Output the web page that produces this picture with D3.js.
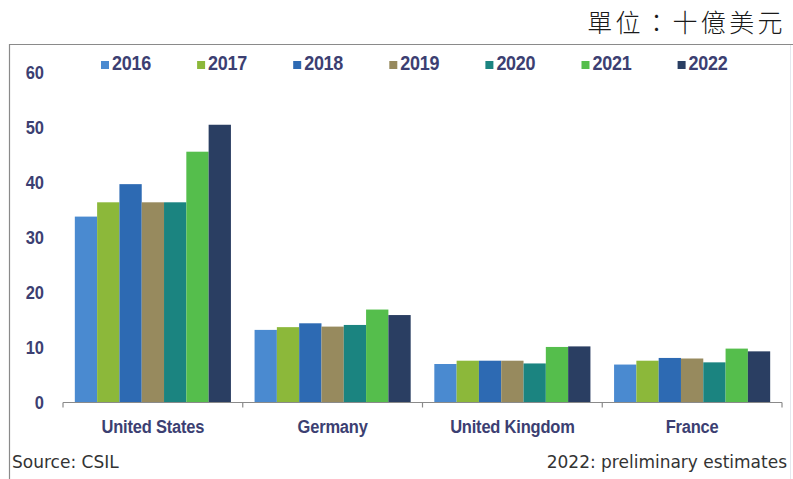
<!DOCTYPE html>
<html>
<head>
<meta charset="utf-8">
<script src="https://cdn.jsdelivr.net/npm/d3@7"></script>
<style>
  html, body { margin: 0; padding: 0; background: #fff; }
  svg { display: block; }
</style>
</head>
<body>
<svg id="chart" width="793" height="479"></svg>
<script>
// Furniture consumption by country, 2016–2022 (billion USD)
const countries = ["United States", "Germany", "United Kingdom", "France"];
const years = ["2016", "2017", "2018", "2019", "2020", "2021", "2022"];
const values2016 = [33.8, 13.2, 7.0, 6.9];
const values2017 = [36.4, 13.7, 7.6, 7.6];
const values2018 = [39.7, 14.4, 7.6, 8.1];
const values2019 = [36.4, 13.8, 7.6, 8.0];
const values2020 = [36.4, 14.1, 7.1, 7.3];
const values2021 = [45.6, 16.9, 10.1, 9.8];
const values2022 = [50.5, 15.9, 10.2, 9.3];
const yTicks = [0, 10, 20, 30, 40, 50, 60];
const yearColors = ["#4a8ad0", "#8cb83a", "#2d6ab3", "#978a5e", "#1b8480", "#55be4c", "#2a3e62"];

const seriesValues = [values2016, values2017, values2018, values2019, values2020, values2021, values2022];
const rows = countries.map((c, ci) => ({
  country: c,
  bars: years.map((y, yi) => ({ year: y, value: seriesValues[yi][ci] }))
}));

const svg = d3.select("#chart");
const textColor = "#3c3f72";
const stretch = 1.12;

// frame
svg.append("line").attr("x1", 9).attr("x2", 793).attr("y1", 44.5).attr("y2", 44.5)
  .attr("stroke", "#8a8a8a").attr("stroke-width", 1.2);
svg.append("line").attr("x1", 9.5).attr("x2", 9.5).attr("y1", 44).attr("y2", 479)
  .attr("stroke", "#8a8a8a").attr("stroke-width", 1.2);
svg.append("line").attr("x1", 790.5).attr("x2", 790.5).attr("y1", 45).attr("y2", 479)
  .attr("stroke", "#e4e8ee").attr("stroke-width", 1);

// unit label
svg.append("text")
  .attr("x", 786).attr("y", 32)
  .attr("text-anchor", "end")
  .attr("font-family", "'Noto Sans CJK TC', 'Noto Sans CJK SC', sans-serif")
  .attr("font-weight", 300)
  .attr("font-size", 25)
  .attr("letter-spacing", 3.4)
  .attr("fill", "#1a1a1a")
  .text("單位：十億美元");

// scales
const y = d3.scaleLinear().domain([0, 60]).range([402.5, 72.5]);
const x0 = d3.scaleBand().domain(countries).range([63, 782]).paddingInner(0).paddingOuter(0);
const x1 = d3.scaleBand().domain(years).range([0, x0.bandwidth()]).paddingInner(0).paddingOuter(0.53);

function stretchedText(sel, xPos, yPos) {
  return sel.attr("transform", `translate(${xPos},${yPos}) scale(1,${stretch})`);
}

// y tick labels
const yLabels = svg.append("g");
yTicks.forEach(t => {
  stretchedText(yLabels.append("text"), 44, y(t))
    .attr("text-anchor", "end")
    .attr("dominant-baseline", "central")
    .attr("font-family", "'Liberation Sans', Arial, sans-serif")
    .attr("font-weight", "bold")
    .attr("font-size", 16.5)
    .attr("fill", textColor)
    .text(t);
});

// bars
const groups = svg.append("g").selectAll("g")
  .data(rows).join("g")
  .attr("transform", d => `translate(${x0(d.country)},0)`);
groups.selectAll("rect")
  .data(d => d.bars).join("rect")
  .attr("x", d => x1(d.year))
  .attr("width", x1.bandwidth())
  .attr("y", d => y(d.value))
  .attr("height", d => y(0) - y(d.value))
  .attr("fill", (d, i) => yearColors[i]);

// x axis
const axisG = svg.append("g").attr("transform", `translate(0,${y(0)})`);
axisG.append("line").attr("x1", 63).attr("x2", 782).attr("stroke", "#8a8a8a").attr("stroke-width", 1.2);
const boundaries = countries.map(c => x0(c)).concat([x0.range()[1]]);
axisG.selectAll("line.tick").data(boundaries).join("line")
  .attr("class", "tick")
  .attr("x1", d => d).attr("x2", d => d)
  .attr("y1", 0).attr("y2", 5)
  .attr("stroke", "#8a8a8a").attr("stroke-width", 1.2);

// category labels
const catLabels = svg.append("g");
countries.forEach(c => {
  stretchedText(catLabels.append("text"), x0(c) + x0.bandwidth() / 2, 427)
    .attr("text-anchor", "middle")
    .attr("dominant-baseline", "central")
    .attr("font-family", "'Liberation Sans', Arial, sans-serif")
    .attr("font-weight", "bold")
    .attr("font-size", 16.5)
    .attr("letter-spacing", -0.2)
    .attr("fill", textColor)
    .text(c);
});

// legend
const legend = svg.append("g");
years.forEach((yr, i) => {
  const lx = 101 + i * 96.1;
  legend.append("rect")
    .attr("x", lx).attr("y", 61).attr("width", 8).attr("height", 8)
    .attr("fill", yearColors[i]);
  stretchedText(legend.append("text"), lx + 11, 63)
    .attr("dominant-baseline", "central")
    .attr("font-family", "'Liberation Sans', Arial, sans-serif")
    .attr("font-weight", "bold")
    .attr("font-size", 18)
    .attr("letter-spacing", -0.3)
    .attr("fill", textColor)
    .text(yr);
});

// notes
svg.append("text")
  .attr("x", 12).attr("y", 468)
  .attr("font-family", "'DejaVu Sans', Verdana, sans-serif")
  .attr("font-size", 17)
  .attr("fill", "#333")
  .text("Source: CSIL");
svg.append("text")
  .attr("x", 787).attr("y", 468)
  .attr("text-anchor", "end")
  .attr("font-family", "'DejaVu Sans', Verdana, sans-serif")
  .attr("font-size", 17)
  .attr("fill", "#333")
  .text("2022: preliminary estimates");
</script>
</body>
</html>
